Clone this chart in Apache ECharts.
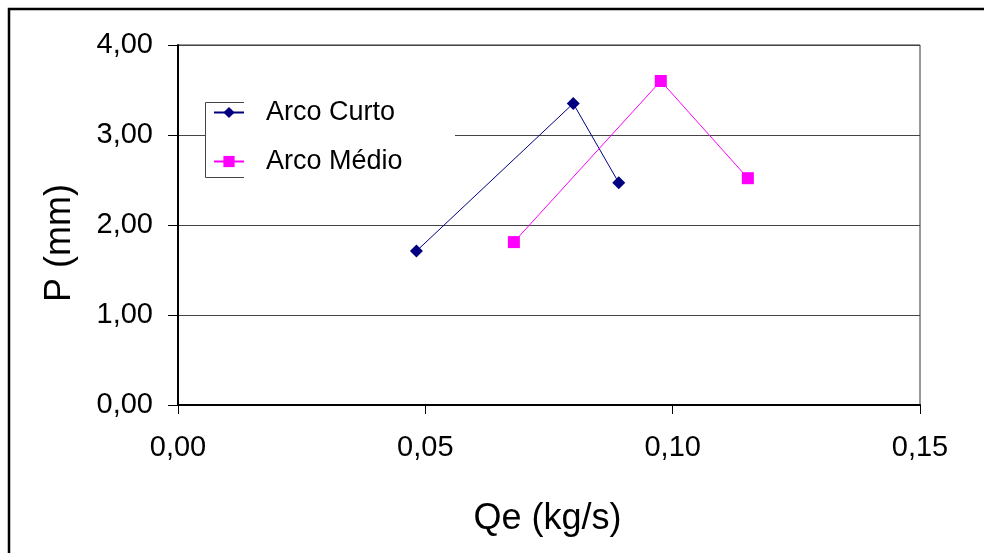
<!DOCTYPE html>
<html>
<head>
<meta charset="utf-8">
<script src="https://cdn.jsdelivr.net/npm/echarts@6/dist/echarts.min.js"></script>
<style>html,body{margin:0;padding:0;background:#fff;}#c{width:984px;height:553px;}</style>
</head>
<body>
<div id="c"></div>
<script>
const seriesNames = ['Arco Curto', 'Arco Médio'];
const curtoQe = [0.0482, 0.0799, 0.0891];
const curtoP = [1.71, 3.35, 2.47];
const medioQe = [0.0679, 0.0976, 0.1152];
const medioP = [1.81, 3.60, 2.52];
const xTickLabels = ['0,00', '0,05', '0,10', '0,15'];
const yTickLabels = ['0,00', '1,00', '2,00', '3,00', '4,00'];

const FONT = 'Liberation Sans, Arial, sans-serif';
const chart = echarts.init(document.getElementById('c'), null, {renderer: 'canvas'});

const zip = (a, b) => a.map((v, i) => [v, b[i]]);

chart.setOption({
  animation: false,
  backgroundColor: '#fff',
  grid: {left: 178, top: 45, right: 64, bottom: 148, show: true, borderColor: '#333', borderWidth: 1, backgroundColor: 'transparent'},
  xAxis: {
    type: 'value', min: 0, max: 0.15, interval: 0.05,
    name: 'Qe (kg/s)', nameLocation: 'middle', nameGap: 96,
    nameTextStyle: {fontFamily: FONT, fontSize: 36, color: '#000', padding: [0, 3, 0, 0]},
    axisLine: {show: true, lineStyle: {color: '#000', width: 2}},
    axisTick: {show: true, length: 9, lineStyle: {color: '#000', width: 1}},
    axisLabel: {fontFamily: FONT, fontSize: 29, color: '#000', margin: 28,
      formatter: (v) => xTickLabels[Math.round(v / 0.05)]},
    splitLine: {show: false}
  },
  yAxis: {
    type: 'value', min: 0, max: 4, interval: 1,
    name: 'P (mm)', nameLocation: 'middle', nameGap: 100,
    nameTextStyle: {fontFamily: FONT, fontSize: 36, color: '#000', padding: [0, 36, 0, 0]},
    axisLine: {show: true, lineStyle: {color: '#000', width: 2}},
    axisTick: {show: true, length: 10, lineStyle: {color: '#000', width: 1}},
    axisLabel: {fontFamily: FONT, fontSize: 29, color: '#000', margin: 25,
      formatter: (v) => yTickLabels[Math.round(v)]},
    splitLine: {show: true, lineStyle: {color: '#444', width: 1}}
  },
  legend: {
    orient: 'vertical', left: 213, top: 99, padding: 0, itemWidth: 30, itemHeight: 14, itemGap: 22,
    z: 10,
    textStyle: {fontFamily: FONT, fontSize: 27, lineHeight: 27, color: '#000', padding: [0, 0, 0, 17]},
    data: seriesNames
  },
  graphic: [
    {type: 'rect', z: 5, shape: {x: 206, y: 102, width: 249, height: 75}, style: {fill: '#fff', stroke: null}},
    {type: 'line', z: 6, shape: {x1: 205.5, y1: 102.5, x2: 244, y2: 102.5}, style: {stroke: '#444', lineWidth: 1}},
    {type: 'line', z: 6, shape: {x1: 205.5, y1: 177.5, x2: 244, y2: 177.5}, style: {stroke: '#444', lineWidth: 1}},
    {type: 'line', z: 6, shape: {x1: 205.5, y1: 102.5, x2: 205.5, y2: 177.5}, style: {stroke: '#444', lineWidth: 1}},
    {type: 'rect', z: 20, shape: {x: 9, y: 9, width: 1000, height: 600}, style: {fill: null, stroke: '#000', lineWidth: 2.5}}
  ],
  series: [
    {
      name: seriesNames[0], type: 'line', data: zip(curtoQe, curtoP),
      symbol: 'diamond', symbolSize: 13,
      itemStyle: {color: '#000080'}, lineStyle: {color: '#000080', width: 1}
    },
    {
      name: seriesNames[1], type: 'line', data: zip(medioQe, medioP),
      symbol: 'rect', symbolSize: 12,
      itemStyle: {color: '#ff00ff'}, lineStyle: {color: '#ff00ff', width: 1}
    }
  ]
});
</script>
</body>
</html>
